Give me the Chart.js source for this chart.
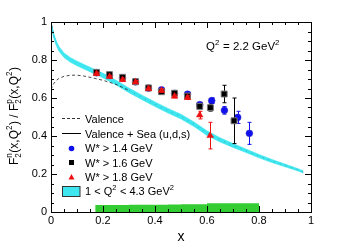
<!DOCTYPE html>
<html>
<head>
<meta charset="utf-8">
<script src="https://cdn.jsdelivr.net/npm/chart.js@4"></script>
<style>
  body { margin: 0; background: #fff; }
</style>
</head>
<body>
<canvas id="ratio" width="341" height="250"></canvas>
<script>
// model curves
var curveX   = [0, 0.01, 0.02, 0.03, 0.05, 0.075, 0.1, 0.15, 0.2, 0.25, 0.3, 0.35, 0.4, 0.45, 0.5, 0.55, 0.6, 0.65, 0.7, 0.75, 0.8, 0.85, 0.9, 0.95, 0.97];
var seaLine  = [1.0, 0.93, 0.89, 0.86, 0.825, 0.80, 0.782, 0.75, 0.718, 0.681, 0.64, 0.603, 0.567, 0.533, 0.502, 0.462, 0.415, 0.38, 0.35, 0.322, 0.294, 0.268, 0.245, 0.222, 0.211];
var bandHigh = [1.0, 0.942, 0.902, 0.872, 0.837, 0.812, 0.794, 0.762, 0.73, 0.693, 0.652, 0.615, 0.579, 0.545, 0.514, 0.474, 0.427, 0.391, 0.36, 0.331, 0.303, 0.276, 0.252, 0.228, 0.217];
var bandLow  = [0.99, 0.918, 0.878, 0.848, 0.813, 0.788, 0.77, 0.738, 0.706, 0.669, 0.628, 0.591, 0.555, 0.521, 0.49, 0.45, 0.403, 0.369, 0.34, 0.313, 0.285, 0.26, 0.238, 0.216, 0.205];

var valenceX = [0, 0.01, 0.02, 0.03, 0.05, 0.075, 0.1, 0.125, 0.15, 0.2, 0.25, 0.3, 0.35, 0.4, 0.45, 0.5, 0.55, 0.6, 0.65, 0.7, 0.75, 0.8, 0.85, 0.9, 0.95, 0.97];
var valence  = [0.645, 0.675, 0.692, 0.703, 0.714, 0.72, 0.72, 0.716, 0.709, 0.693, 0.672, 0.64, 0.603, 0.567, 0.533, 0.502, 0.462, 0.415, 0.38, 0.35, 0.322, 0.294, 0.268, 0.245, 0.222, 0.211];

// systematic error band
var systX = [0.17, 0.2, 0.25, 0.3, 0.35, 0.4, 0.45, 0.5, 0.55, 0.6, 0.65, 0.7, 0.75, 0.8];
var systH = [0.037, 0.037, 0.037, 0.038, 0.038, 0.038, 0.039, 0.041, 0.041, 0.046, 0.046, 0.046, 0.046, 0.046];

// data, W* > 1.4 GeV
var blueX   = [0.175, 0.225, 0.275, 0.325, 0.375, 0.425, 0.475, 0.525, 0.572, 0.618, 0.667, 0.718, 0.763];
var blueY   = [0.733, 0.72, 0.706, 0.685, 0.652, 0.643, 0.624, 0.62, 0.565, 0.586, 0.535, 0.498, 0.414];
var blueErr = [0.008, 0.008, 0.008, 0.008, 0.008, 0.008, 0.008, 0.01, 0.012, 0.015, 0.02, 0.032, 0.058];
// W* > 1.6 GeV
var blackX   = [0.175, 0.225, 0.275, 0.325, 0.375, 0.425, 0.475, 0.525, 0.572, 0.613, 0.666, 0.704];
var blackY   = [0.735, 0.723, 0.709, 0.686, 0.653, 0.633, 0.625, 0.61, 0.556, 0.549, 0.621, 0.48];
var blackErr = [0.008, 0.008, 0.008, 0.008, 0.008, 0.008, 0.008, 0.01, 0.012, 0.018, 0.046, 0.12];
// W* > 1.8 GeV
var redX   = [0.175, 0.225, 0.275, 0.325, 0.375, 0.425, 0.475, 0.525, 0.572, 0.612];
var redY   = [0.728, 0.712, 0.696, 0.684, 0.649, 0.639, 0.609, 0.602, 0.51, 0.402];
var redErr = [0.008, 0.008, 0.008, 0.008, 0.008, 0.008, 0.008, 0.01, 0.02, 0.07];

var FONT = "'Liberation Sans', Arial, Helvetica, sans-serif";
var CYAN = '#3ee6f0';

function pts(xs, ys) {
    return xs.map(function (x, i) { return {x: x, y: ys[i]}; });
}

function tickText(v) {
    if (Math.abs(v) < 1e-9) return '0';
    if (Math.abs(v - 1) < 1e-9) return '1';
    return v.toFixed(1);
}

// text with super/subscripts
function runWidth(ctx, runs, size) {
    var w = 0;
    runs.forEach(function (r) {
        if (r.k === 'n') {
            ctx.font = size + 'px ' + FONT;
            w += ctx.measureText(r.t).width;
        } else {
            ctx.font = (size * 0.68) + 'px ' + FONT;
            var a = ctx.measureText(r.t).width;
            var b = r.t2 ? ctx.measureText(r.t2).width : 0;
            w += Math.max(a, b) + 0.5;
        }
    });
    return w;
}
function drawRuns(ctx, runs, x, y, size) {
    ctx.textBaseline = 'alphabetic';
    ctx.textAlign = 'left';
    runs.forEach(function (r) {
        if (r.k === 'n') {
            ctx.font = size + 'px ' + FONT;
            ctx.fillText(r.t, x, y);
            x += ctx.measureText(r.t).width;
        } else {
            ctx.font = (size * 0.68) + 'px ' + FONT;
            var a = 0, b = 0;
            if (r.k === 'sup' || r.k === 'ss') {
                ctx.fillText(r.t, x, y - size * 0.42);
                a = ctx.measureText(r.t).width;
            }
            if (r.k === 'sub') {
                ctx.fillText(r.t, x, y + size * 0.25);
                a = ctx.measureText(r.t).width;
            }
            if (r.k === 'ss') {
                ctx.fillText(r.t2, x, y + size * 0.25);
                b = ctx.measureText(r.t2).width;
            }
            x += Math.max(a, b) + 0.5;
        }
    });
}

// error bars, drawn just before the markers of the same dataset
var errorBars = {
    id: 'errorBars',
    beforeDatasetDraw: function (chart, args) {
        var ds = chart.data.datasets[args.index];
        if (!ds.err) return;
        var ctx = chart.ctx, xs = chart.scales.x, ys = chart.scales.y;
        ctx.save();
        ctx.strokeStyle = ds.barColor;
        ctx.lineWidth = 1;
        ds.data.forEach(function (p, i) {
            var px = Math.round(xs.getPixelForValue(p.x)) + 0.5;
            var top = ys.getPixelForValue(p.y + ds.err[i]);
            var bot = ys.getPixelForValue(p.y - ds.err[i]);
            ctx.beginPath();
            ctx.moveTo(px, top); ctx.lineTo(px, bot);
            ctx.moveTo(px - 2, top); ctx.lineTo(px + 2, top);
            ctx.moveTo(px - 2, bot); ctx.lineTo(px + 2, bot);
            ctx.stroke();
        });
        ctx.restore();
    }
};

// frame, inner ticks, titles, legend, label
var decorations = {
    id: 'decorations',
    afterDraw: function (chart) {
        var ctx = chart.ctx, a = chart.chartArea;
        var xs = chart.scales.x, ys = chart.scales.y;
        ctx.save();
        ctx.strokeStyle = '#000';
        ctx.lineWidth = 1;
        ctx.strokeRect(Math.round(a.left) + 0.5, Math.round(a.top) + 0.5,
                       Math.round(a.right - a.left), Math.round(a.bottom - a.top));

        ctx.beginPath();
        for (var i = 0; i <= 20; i++) {
            var len = i % 4 === 0 ? 6 : 3;
            var px = Math.round(xs.getPixelForValue(i / 20)) + 0.5;
            ctx.moveTo(px, a.bottom); ctx.lineTo(px, a.bottom - len);
            ctx.moveTo(px, a.top); ctx.lineTo(px, a.top + len);
            var py = Math.round(ys.getPixelForValue(i / 20)) + 0.5;
            ctx.moveTo(a.left, py); ctx.lineTo(a.left + len, py);
            ctx.moveTo(a.right, py); ctx.lineTo(a.right - len, py);
        }
        ctx.stroke();

        ctx.fillStyle = '#000';
        // x title
        ctx.font = '14px ' + FONT;
        ctx.textAlign = 'center';
        ctx.textBaseline = 'alphabetic';
        ctx.fillText('x', (a.left + a.right) / 2, 241);

        // y title
        var yRuns = [
            {k: 'n', t: 'F'}, {k: 'ss', t: 'n', t2: '2'}, {k: 'n', t: '(x,Q'}, {k: 'sup', t: '2'},
            {k: 'n', t: ') / F'}, {k: 'ss', t: 'p', t2: '2'}, {k: 'n', t: '(x,Q'}, {k: 'sup', t: '2'},
            {k: 'n', t: ')'}
        ];
        var w = runWidth(ctx, yRuns, 12);
        ctx.save();
        ctx.translate(17.5, 116);
        ctx.rotate(-Math.PI / 2);
        drawRuns(ctx, yRuns, -w / 2, 0, 12);
        ctx.restore();

        // Q^2 label
        drawRuns(ctx, [{k: 'n', t: 'Q'}, {k: 'sup', t: '2'}, {k: 'n', t: ' = 2.2 GeV'}, {k: 'sup', t: '2'}],
                 206, 50, 11.5);

        // legend
        var tx = 85;
        ctx.strokeStyle = '#333';
        ctx.setLineDash([3, 2]);
        ctx.beginPath(); ctx.moveTo(62, 118.5); ctx.lineTo(80, 118.5); ctx.stroke();
        ctx.setLineDash([]);
        ctx.strokeStyle = '#000';
        ctx.beginPath(); ctx.moveTo(62, 133.5); ctx.lineTo(81, 133.5); ctx.stroke();

        ctx.fillStyle = '#1010ee';
        ctx.beginPath(); ctx.arc(71.5, 148.5, 2.8, 0, Math.PI * 2); ctx.fill();
        ctx.fillStyle = '#000';
        ctx.fillRect(69, 160, 5, 5);
        ctx.fillStyle = '#ee1010';
        ctx.beginPath(); ctx.moveTo(71.5, 174); ctx.lineTo(74.5, 179.5); ctx.lineTo(68.5, 179.5); ctx.closePath(); ctx.fill();

        ctx.fillStyle = CYAN;
        ctx.fillRect(62.5, 186.5, 17.5, 10);
        ctx.strokeStyle = '#333';
        ctx.strokeRect(62.5, 186.5, 17.5, 10);

        ctx.fillStyle = '#000';
        drawRuns(ctx, [{k: 'n', t: 'Valence'}], tx, 122.5, 11);
        drawRuns(ctx, [{k: 'n', t: 'Valence + Sea (u,d,s)'}], tx, 137.5, 11);
        drawRuns(ctx, [{k: 'n', t: 'W* > 1.4 GeV'}], tx, 152, 11);
        drawRuns(ctx, [{k: 'n', t: 'W* > 1.6 GeV'}], tx, 166.5, 11);
        drawRuns(ctx, [{k: 'n', t: 'W* > 1.8 GeV'}], tx, 181, 11);
        drawRuns(ctx, [{k: 'n', t: '1 < Q'}, {k: 'sup', t: '2'}, {k: 'n', t: ' < 4.3 GeV'}, {k: 'sup', t: '2'}],
                 tx, 195, 11);
        ctx.restore();
    }
};

var ctx = document.getElementById('ratio').getContext('2d');
var chart = new Chart(ctx, {
    type: 'scatter',
    data: {
        datasets: [
            {
                label: 'syst',
                data: pts(systX, systH),
                showLine: true,
                stepped: 'before',
                fill: 'origin',
                backgroundColor: '#33cc33',
                borderWidth: 0,
                pointRadius: 0,
                order: 10
            },
            {
                label: 'Valence + Sea (u,d,s)',
                data: pts(curveX, seaLine),
                showLine: true,
                borderColor: '#000',
                borderWidth: 1,
                pointRadius: 0,
                order: 9
            },
            {
                label: 'band low',
                data: pts(curveX, bandLow),
                showLine: true,
                borderColor: CYAN,
                borderWidth: 0.6,
                pointRadius: 0,
                order: 8
            },
            {
                label: 'band high',
                data: pts(curveX, bandHigh),
                showLine: true,
                fill: '-1',
                backgroundColor: CYAN,
                borderColor: CYAN,
                borderWidth: 0.6,
                pointRadius: 0,
                order: 7
            },
            {
                label: 'Valence',
                data: pts(valenceX, valence),
                showLine: true,
                borderColor: 'rgba(40,40,40,0.85)',
                borderWidth: 1,
                borderDash: [3, 2.5],
                pointRadius: 0,
                order: 6,
                segment: {
                    borderColor: function (c) { return c.p0.parsed.x >= 0.3 ? 'rgba(30,60,70,0.35)' : undefined; },
                    borderDash: function (c) { return c.p0.parsed.x >= 0.3 ? [1, 5] : undefined; }
                }
            },
            {
                label: 'W* > 1.4 GeV',
                data: pts(blueX, blueY),
                err: blueErr,
                barColor: '#1010ee',
                pointStyle: 'circle',
                pointRadius: 3.4,
                backgroundColor: '#1010ee',
                borderColor: '#3030c0',
                borderWidth: 0.5,
                order: 3
            },
            {
                label: 'W* > 1.6 GeV',
                data: pts(blackX, blackY),
                err: blackErr,
                barColor: '#000',
                pointStyle: 'rect',
                pointRadius: 4.2,
                backgroundColor: '#000',
                borderColor: '#777',
                borderWidth: 1,
                order: 2
            },
            {
                label: 'W* > 1.8 GeV',
                data: pts(redX, redY),
                err: redErr,
                barColor: '#ee1010',
                pointStyle: 'triangle',
                pointRadius: 3.8,
                backgroundColor: '#ee1010',
                borderColor: '#ee1010',
                borderWidth: 0.5,
                order: 1
            }
        ]
    },
    options: {
        responsive: false,
        animation: false,
        layout: { padding: { left: 0, top: 22, right: 30, bottom: 0 } },
        plugins: {
            legend: { display: false },
            tooltip: { enabled: false }
        },
        scales: {
            x: {
                type: 'linear',
                min: 0,
                max: 1,
                grid: { display: false, drawTicks: false },
                border: { display: false },
                ticks: {
                    stepSize: 0.2,
                    autoSkip: false,
                    maxRotation: 0,
                    padding: 2,
                    color: '#000',
                    font: { family: FONT, size: 11 },
                    callback: tickText
                },
                afterFit: function (scale) { scale.height = 38; }
            },
            y: {
                type: 'linear',
                min: 0,
                max: 1,
                grid: { display: false, drawTicks: false },
                border: { display: false },
                ticks: {
                    stepSize: 0.2,
                    autoSkip: false,
                    padding: 4,
                    color: '#000',
                    font: { family: FONT, size: 11 },
                    callback: tickText
                },
                afterFit: function (scale) { scale.width = 51; }
            }
        }
    },
    plugins: [errorBars, decorations]
});
</script>
</body>
</html>
